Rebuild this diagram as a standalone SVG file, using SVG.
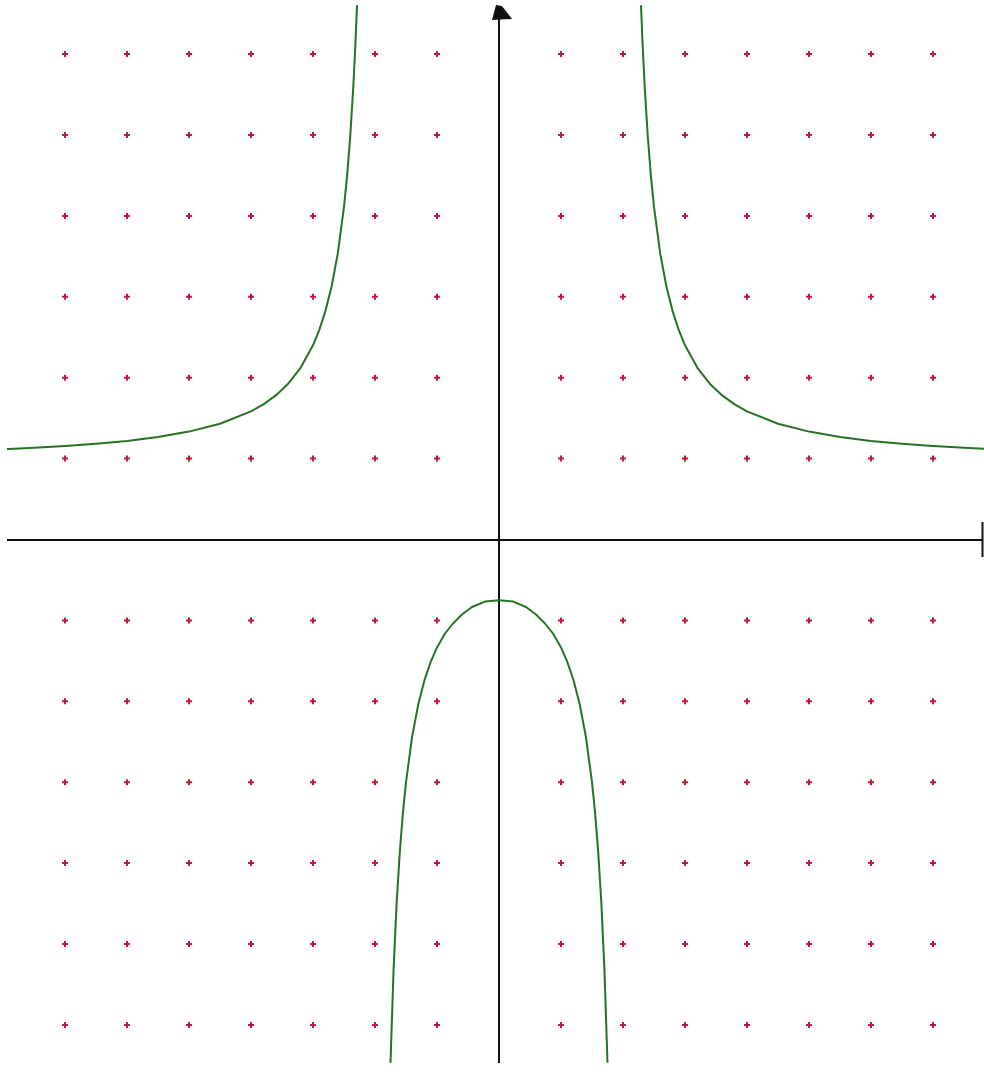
<svg xmlns="http://www.w3.org/2000/svg" xmlns:xlink="http://www.w3.org/1999/xlink" width="984" height="1072" viewBox="0 0 984 1072">
<style>
.axis{stroke:#111;stroke-width:2;fill:none}
.curve{stroke:#267326;stroke-width:2;fill:none;stroke-linejoin:round}
.dot{stroke:#c0183e;stroke-width:2}
</style>
<defs>
<path id="d" class="dot" d="M-3 0H3M0 -3V3"/>
</defs>
<rect width="984" height="1072" fill="#fff"/>
<g id="grid">
<g id="row1" transform="translate(0,54.1)"><use href="#d" x="65"/><use href="#d" x="127"/><use href="#d" x="189"/><use href="#d" x="251"/><use href="#d" x="313"/><use href="#d" x="375"/><use href="#d" x="437"/><use href="#d" x="561"/><use href="#d" x="623"/><use href="#d" x="685"/><use href="#d" x="747"/><use href="#d" x="809"/><use href="#d" x="871"/><use href="#d" x="933"/></g>
<g id="row2" transform="translate(0,135)"><use href="#d" x="65"/><use href="#d" x="127"/><use href="#d" x="189"/><use href="#d" x="251"/><use href="#d" x="313"/><use href="#d" x="375"/><use href="#d" x="437"/><use href="#d" x="561"/><use href="#d" x="623"/><use href="#d" x="685"/><use href="#d" x="747"/><use href="#d" x="809"/><use href="#d" x="871"/><use href="#d" x="933"/></g>
<g id="row3" transform="translate(0,215.9)"><use href="#d" x="65"/><use href="#d" x="127"/><use href="#d" x="189"/><use href="#d" x="251"/><use href="#d" x="313"/><use href="#d" x="375"/><use href="#d" x="437"/><use href="#d" x="561"/><use href="#d" x="623"/><use href="#d" x="685"/><use href="#d" x="747"/><use href="#d" x="809"/><use href="#d" x="871"/><use href="#d" x="933"/></g>
<g id="row4" transform="translate(0,296.8)"><use href="#d" x="65"/><use href="#d" x="127"/><use href="#d" x="189"/><use href="#d" x="251"/><use href="#d" x="313"/><use href="#d" x="375"/><use href="#d" x="437"/><use href="#d" x="561"/><use href="#d" x="623"/><use href="#d" x="685"/><use href="#d" x="747"/><use href="#d" x="809"/><use href="#d" x="871"/><use href="#d" x="933"/></g>
<g id="row5" transform="translate(0,377.7)"><use href="#d" x="65"/><use href="#d" x="127"/><use href="#d" x="189"/><use href="#d" x="251"/><use href="#d" x="313"/><use href="#d" x="375"/><use href="#d" x="437"/><use href="#d" x="561"/><use href="#d" x="623"/><use href="#d" x="685"/><use href="#d" x="747"/><use href="#d" x="809"/><use href="#d" x="871"/><use href="#d" x="933"/></g>
<g id="row6" transform="translate(0,458.6)"><use href="#d" x="65"/><use href="#d" x="127"/><use href="#d" x="189"/><use href="#d" x="251"/><use href="#d" x="313"/><use href="#d" x="375"/><use href="#d" x="437"/><use href="#d" x="561"/><use href="#d" x="623"/><use href="#d" x="685"/><use href="#d" x="747"/><use href="#d" x="809"/><use href="#d" x="871"/><use href="#d" x="933"/></g>
<g id="row7" transform="translate(0,620.4)"><use href="#d" x="65"/><use href="#d" x="127"/><use href="#d" x="189"/><use href="#d" x="251"/><use href="#d" x="313"/><use href="#d" x="375"/><use href="#d" x="437"/><use href="#d" x="561"/><use href="#d" x="623"/><use href="#d" x="685"/><use href="#d" x="747"/><use href="#d" x="809"/><use href="#d" x="871"/><use href="#d" x="933"/></g>
<g id="row8" transform="translate(0,701.3)"><use href="#d" x="65"/><use href="#d" x="127"/><use href="#d" x="189"/><use href="#d" x="251"/><use href="#d" x="313"/><use href="#d" x="375"/><use href="#d" x="437"/><use href="#d" x="561"/><use href="#d" x="623"/><use href="#d" x="685"/><use href="#d" x="747"/><use href="#d" x="809"/><use href="#d" x="871"/><use href="#d" x="933"/></g>
<g id="row9" transform="translate(0,782.2)"><use href="#d" x="65"/><use href="#d" x="127"/><use href="#d" x="189"/><use href="#d" x="251"/><use href="#d" x="313"/><use href="#d" x="375"/><use href="#d" x="437"/><use href="#d" x="561"/><use href="#d" x="623"/><use href="#d" x="685"/><use href="#d" x="747"/><use href="#d" x="809"/><use href="#d" x="871"/><use href="#d" x="933"/></g>
<g id="row10" transform="translate(0,863.1)"><use href="#d" x="65"/><use href="#d" x="127"/><use href="#d" x="189"/><use href="#d" x="251"/><use href="#d" x="313"/><use href="#d" x="375"/><use href="#d" x="437"/><use href="#d" x="561"/><use href="#d" x="623"/><use href="#d" x="685"/><use href="#d" x="747"/><use href="#d" x="809"/><use href="#d" x="871"/><use href="#d" x="933"/></g>
<g id="row11" transform="translate(0,944)"><use href="#d" x="65"/><use href="#d" x="127"/><use href="#d" x="189"/><use href="#d" x="251"/><use href="#d" x="313"/><use href="#d" x="375"/><use href="#d" x="437"/><use href="#d" x="561"/><use href="#d" x="623"/><use href="#d" x="685"/><use href="#d" x="747"/><use href="#d" x="809"/><use href="#d" x="871"/><use href="#d" x="933"/></g>
<g id="row12" transform="translate(0,1025)"><use href="#d" x="65"/><use href="#d" x="127"/><use href="#d" x="189"/><use href="#d" x="251"/><use href="#d" x="313"/><use href="#d" x="375"/><use href="#d" x="437"/><use href="#d" x="561"/><use href="#d" x="623"/><use href="#d" x="685"/><use href="#d" x="747"/><use href="#d" x="809"/><use href="#d" x="871"/><use href="#d" x="933"/></g>
</g>
<g id="axes">
<line class="axis" x1="7" y1="540" x2="982" y2="540"/>
<line class="axis" x1="982.5" y1="522" x2="982.5" y2="557" stroke-width="3"/>
<line class="axis" x1="499" y1="18" x2="499" y2="1063"/>
<polygon points="496,5 502,6 512,19 492,20" fill="#111"/>
</g>
<g id="curves">
<polyline id="upper-left" class="curve" points="7,449 9.2,448.9 34,447.8 65,446.1 96,443.8 127,440.9 158,437 189,431.6 220,423.7 251,411.4 263.4,404.4 275.8,395.4 288.2,383.7 300.6,367.8 313,345.3 319.2,330.2 325.4,311.1 331.6,286.5 337.8,253.4 344,206.9 347.1,175.8 350.2,136.8 353.3,86.6 355.2,48.8 357,5.2"/>
<polyline id="upper-right" class="curve" points="641,5.2 642.8,48.8 644.7,86.6 647.8,136.8 650.9,175.8 654,206.9 660.2,253.4 666.4,286.5 672.6,311.1 678.8,330.2 685,345.3 697.4,367.8 709.8,383.7 722.2,395.4 734.6,404.4 747,411.4 778,423.7 809,431.6 840,437 871,440.9 902,443.8 933,446.1 964,447.8 984,448.7"/>
<polyline id="lower" class="curve" points="390.5,1062.7 393.6,968.8 396.7,901.9 399.8,851.9 402.9,813.1 406,782.2 412.2,736.2 418.4,703.8 424.6,679.8 430.8,661.6 437,647.4 445,633.5 453,623.5 462,614.5 472,607 485,601.6 499,600.2 513,601.6 526,607 536,614.5 545,623.5 553,633.5 561,647.4 567.2,661.6 573.4,679.8 579.6,703.8 585.8,736.2 592,782.2 595.1,813.1 598.2,851.9 601.3,901.9 604.4,968.8 607.5,1062.7"/>
</g>
</svg>
